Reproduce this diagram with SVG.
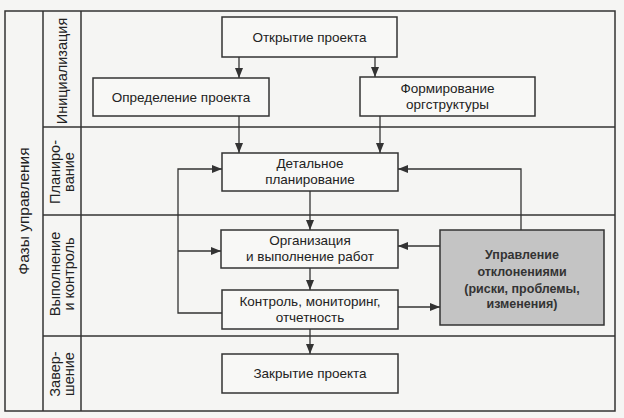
<svg xmlns="http://www.w3.org/2000/svg" width="624" height="418" viewBox="0 0 624 418">
<defs>
<marker id="ah" viewBox="0 0 10 10" refX="10" refY="5" markerWidth="10" markerHeight="10" markerUnits="userSpaceOnUse" orient="auto">
<path d="M0,1 L10,5 L0,9 Z" fill="#333"/>
</marker>
</defs>
<style>
.frame{fill:none;stroke:#333;stroke-width:1.5}
.box{fill:#f8f8f6;stroke:#333;stroke-width:1.5}
.gray{fill:#c4c4c4;stroke:#333;stroke-width:1.5}
.t{font-family:"Liberation Sans",Arial,sans-serif;font-size:13.5px;fill:#222;text-anchor:middle}
.r{font-family:"Liberation Sans",Arial,sans-serif;font-size:14.5px;fill:#222;text-anchor:middle}
.b{font-family:"Liberation Sans",Arial,sans-serif;font-size:12.5px;font-weight:bold;fill:#333;text-anchor:middle}
.ca{fill:none;stroke:#333;stroke-width:1.3;marker-end:url(#ah)}
</style>
<rect width="624" height="418" fill="#f5f5f3"/>
<g id="frame">
<rect class="frame" x="5" y="11" width="610" height="400"/>
<line class="frame" x1="43" y1="11" x2="43" y2="411"/>
<line class="frame" x1="81" y1="11" x2="81" y2="411"/>
<line class="frame" x1="43" y1="127" x2="615" y2="127"/>
<line class="frame" x1="43" y1="215" x2="615" y2="215"/>
<line class="frame" x1="43" y1="336" x2="615" y2="336"/>
<text class="r" style="font-size:15.5px" transform="translate(29,211) rotate(-90)">Фазы управления</text>
<text class="r" transform="translate(67,71) rotate(-90)">Инициализация</text>
<text class="r" transform="translate(60,172) rotate(-90)">Планиро-</text>
<text class="r" transform="translate(74,172) rotate(-90)">вание</text>
<text class="r" transform="translate(60,274) rotate(-90)">Выполнение</text>
<text class="r" transform="translate(74,274) rotate(-90)">и контроль</text>
<text class="r" transform="translate(60,374) rotate(-90)">Завер-</text>
<text class="r" transform="translate(74,374) rotate(-90)">шение</text>
</g>
<g id="connectors">
<line class="ca" x1="239" y1="57" x2="239" y2="78"/>
<line class="ca" x1="375" y1="57" x2="375" y2="77"/>
<line class="ca" x1="239" y1="116" x2="239" y2="153"/>
<line class="ca" x1="380" y1="116" x2="380" y2="153"/>
<line class="ca" x1="310" y1="191" x2="310" y2="230"/>
<line class="ca" x1="310" y1="268" x2="310" y2="290"/>
<line class="ca" x1="310" y1="329" x2="310" y2="354"/>
<polyline class="ca" points="222,313 178,313 178,169 222,169"/>
<line class="ca" x1="178" y1="251" x2="221" y2="251"/>
<polyline class="ca" points="521,230 521,169 398,169"/>
<line class="ca" x1="440" y1="246" x2="398" y2="246"/>
<line class="ca" x1="398" y1="307" x2="440" y2="307"/>
</g>
<g id="n_open">
<rect class="box" x="222" y="17" width="175" height="40"/>
<text class="t" x="309.5" y="42">Открытие проекта</text>
</g>
<g id="n_define">
<rect class="box" x="93" y="78" width="176" height="38"/>
<text class="t" x="181" y="102">Определение проекта</text>
</g>
<g id="n_org">
<rect class="box" x="360" y="77" width="175" height="39"/>
<text class="t" x="447.5" y="93">Формирование</text>
<text class="t" x="447.5" y="109">оргструктуры</text>
</g>
<g id="n_plan">
<rect class="box" x="222" y="153" width="176" height="38"/>
<text class="t" x="310" y="168">Детальное</text>
<text class="t" x="310" y="184">планирование</text>
</g>
<g id="n_exec">
<rect class="box" x="221" y="230" width="177" height="38"/>
<text class="t" x="310" y="245">Организация</text>
<text class="t" x="310" y="261">и выполнение работ</text>
</g>
<g id="n_control">
<rect class="box" x="222" y="290" width="176" height="39"/>
<text class="t" x="310" y="306">Контроль, мониторинг,</text>
<text class="t" x="310" y="322">отчетность</text>
</g>
<g id="n_close">
<rect class="box" x="222" y="354" width="176" height="39"/>
<text class="t" x="310" y="378">Закрытие проекта</text>
</g>
<g id="n_dev">
<rect class="gray" x="440" y="230" width="164" height="95"/>
<text class="b" x="522" y="259">Управление</text>
<text class="b" x="522" y="276">отклонениями</text>
<text class="b" x="522" y="293">(риски, проблемы,</text>
<text class="b" x="522" y="308">изменения)</text>
</g>
</svg>
